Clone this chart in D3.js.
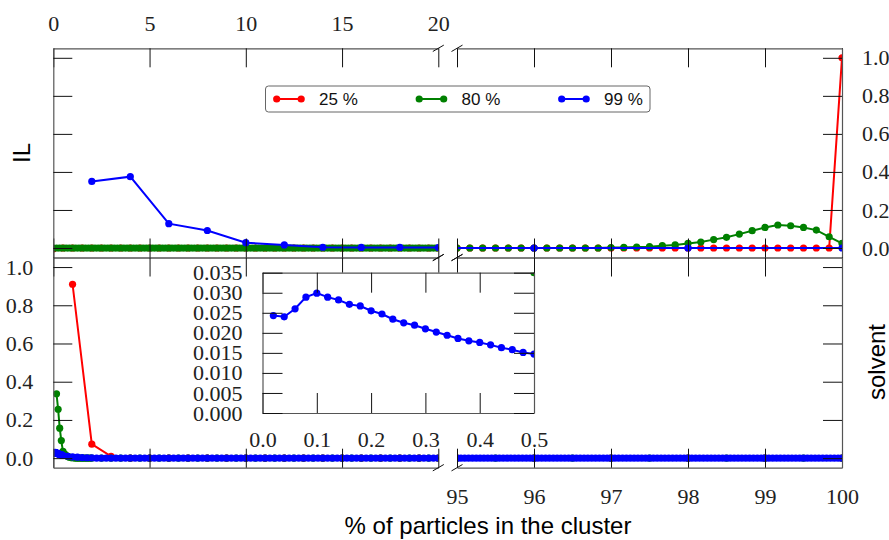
<!DOCTYPE html>
<html>
<head>
<meta charset="utf-8">
<script src="https://cdn.jsdelivr.net/npm/d3@7"></script>
<style>
  body { margin: 0; background: #fff; }
  svg { display: block; }
</style>
</head>
<body>
<svg id="chart" width="889" height="540"></svg>
<script>
// ---- data -------------------------------------------------------------
const seriesNames  = ['25 %', '80 %', '99 %'];
const seriesColors = ['#ff0000', '#008000', '#0000ff'];

const xTicksLeft   = [0, 5, 10, 15, 20];
const xTicksRight  = [95, 96, 97, 98, 99, 100];
const yTicks       = [0, 0.2, 0.4, 0.6, 0.8, 1.0];
const insetXTicks  = [0, 0.1, 0.2, 0.3, 0.4, 0.5];
const insetYTicks  = [0, 0.005, 0.01, 0.015, 0.02, 0.025, 0.03, 0.035];

// IL panel (top). Each piece: start x, x step, values
const il25Left = [
  -0.005, 0, 0, 0, 0, 0, 0, 0, 0, 0, 0, 0, 0, 0, 0, 0, 0, 0, 0, 0,
  0, 0, 0, 0, 0, 0, 0, 0, 0, 0, 0, 0, 0, 0, 0, 0, 0, 0, 0, 0,
  0
];                                                   // 0 .. 20, step 0.5
const il25Right = [
  0, 0, 0, 0, 0, 0, 0, 0, 0, 0, 0, 0, 0, 0, 0, 0,
  0, 0, 0, 0, 0, 0, 0, 0, 0, 0, 0, 0, 0, 0, 1.0
];                                                   // 95 .. 100, step 1/6
const il80Left = [
  0, 0, 0, 0, 0, 0, 0, 0, 0, 0, 0, 0, 0, 0, 0, 0, 0, 0, 0, 0,
  0, 0, 0, 0, 0, 0, 0, 0, 0, 0, 0, 0, 0, 0, 0, 0, 0, 0, 0, 0,
  0, 0, 0, 0, 0, 0, 0, 0, 0, 0, 0, 0, 0, 0, 0, 0, 0, 0, 0, 0,
  0, 0, 0, 0, 0, 0, 0, 0, 0, 0, 0, 0, 0, 0, 0, 0, 0, 0, 0, 0,
  0, 0, 0, 0, 0, 0, 0, 0, 0, 0, 0, 0, 0, 0, 0, 0, 0, 0, 0, 0,
  0, 0, 0, 0, 0, 0, 0, 0, 0, 0, 0, 0, 0, 0, 0, 0, 0, 0, 0, 0,
  0
];                                                   // 0 .. 20, step 1/6
const il80Right = [
  0, 0, 0, 0, 0, 0, 0, 0, 0, 0, 0, 0,
  0.002, 0.003, 0.005, 0.007, 0.012, 0.016, 0.024, 0.031, 0.044, 0.056,
  0.073, 0.091, 0.108, 0.121, 0.117, 0.108, 0.094, 0.059, 0.024
];                                                   // 95 .. 100, step 1/6
const il99Left  = [0.35, 0.375, 0.128, 0.092, 0.028, 0.016, 0.004, 0.003, 0.003, 0.002]; // 2 .. 20, step 2
const il99Right = [0, 0, 0, 0];                      // 94 .. 100, step 2

// solvent panel (bottom)
const sv25Left  = [0.91, 0.073, 0.01, 0, 0, 0, 0, 0, 0, 0, 0, 0, 0, 0, 0, 0, 0, 0, 0, 0]; // 1 .. 20
const sv25Right = [0, 0, 0, 0, 0, 0];                // 95 .. 100
const sv80Head  = [
  0.337, 0.256, 0.157, 0.092, 0.035, 0.022, 0.014, 0.009, 0.005, 0.003,
  0.002, 0.001, 0, 0, 0, 0, 0, 0, 0, 0, 0, 0, 0
];                                                   // 1/6 .. 2, step 1/12
const sv80Tail  = [
  0, 0, 0, 0, 0, 0, 0, 0, 0, 0, 0, 0, 0, 0, 0, 0, 0, 0,
  0, 0, 0, 0, 0, 0, 0, 0, 0, 0, 0, 0, 0, 0, 0, 0, 0, 0
];                                                   // 2.5 .. 20, step 0.5
const sv80Right = [0, 0, 0, 0, 0, 0, 0, 0, 0, 0, 0]; // 95 .. 100, step 0.5
const sv99Head  = [
  0.0243, 0.0240, 0.0260, 0.0289, 0.0299, 0.0289, 0.0282, 0.0271, 0.0267, 0.0255,
  0.0247, 0.0234, 0.0225, 0.0219, 0.0210, 0.0202, 0.0194, 0.0186, 0.0180, 0.0176,
  0.0170, 0.0163, 0.0158, 0.0151, 0.0147
];                                                   // 0.02 .. 0.50, step 0.02
const sv99Tail  = [
  0.010, 0.007, 0.005, 0.003, 0.002, 0.001, 0, 0, 0, 0, 0, 0, 0, 0, 0, 0, 0, 0, 0, 0,
  0, 0, 0, 0, 0, 0, 0, 0, 0, 0, 0, 0, 0, 0, 0, 0, 0, 0, 0, 0,
  0, 0, 0, 0, 0, 0, 0, 0, 0, 0, 0, 0, 0, 0, 0, 0, 0, 0, 0, 0,
  0, 0, 0, 0, 0, 0, 0, 0, 0, 0, 0, 0, 0, 0, 0, 0, 0, 0
];                                                   // 0.75 .. 20, step 0.25
const sv99Right = [
  0, 0, 0, 0, 0, 0, 0, 0, 0, 0, 0, 0, 0, 0, 0, 0, 0, 0, 0, 0,
  0, 0, 0, 0, 0, 0, 0, 0, 0, 0, 0, 0, 0, 0, 0, 0, 0, 0, 0, 0,
  0, 0, 0, 0, 0, 0, 0, 0, 0, 0, 0, 0, 0, 0, 0, 0, 0, 0, 0, 0,
  0, 0, 0, 0, 0, 0, 0, 0, 0, 0, 0, 0, 0, 0, 0, 0, 0, 0, 0, 0,
  0, 0, 0, 0, 0, 0, 0, 0, 0, 0, 0, 0, 0, 0, 0, 0, 0, 0, 0, 0,
  0
];                                                   // 95 .. 100, step 0.05

function piece(start, step, values) {
  return values.map((v, i) => [start + i * step, v]);
}

const ilPoints = [
  [...piece(0, 0.5, il25Left), ...piece(95, 1 / 6, il25Right)],
  [...piece(0, 1 / 6, il80Left), ...piece(95, 1 / 6, il80Right)],
  [...piece(2, 2, il99Left), ...piece(94, 2, il99Right)]
];
const svPoints = [
  [...piece(1, 1, sv25Left), ...piece(95, 1, sv25Right)],
  [...piece(1 / 6, 1 / 12, sv80Head), ...piece(2.5, 0.5, sv80Tail), ...piece(95, 0.5, sv80Right)],
  [...piece(0.02, 0.02, sv99Head), ...piece(0.75, 0.25, sv99Tail), ...piece(95, 0.05, sv99Right)]
];

// ---- layout -----------------------------------------------------------
const tickLen  = 19,
      markR    = 3.6,
      serif    = 'Liberation Serif, DejaVu Serif, Noto Serif, Times New Roman, serif',
      sans     = 'Liberation Sans, Arial, sans-serif',
      spineCol = '#555';

const xLeft  = d3.scaleLinear().domain([0, 20]).range([53.3, 438.3]),
      xRight = d3.scaleLinear().domain([95, 100]).range([457, 842]),
      yTop   = d3.scaleLinear().domain([-0.05, 1.05]).range([257.5, 48.3]),
      yBot   = d3.scaleLinear().domain([-0.05, 1.05]).range([467.7, 257.5]),
      xIn    = d3.scaleLinear().domain([0, 0.5]).range([262.5, 534]),
      yIn    = d3.scaleLinear().domain([0, 0.035]).range([413, 272.7]);

const svg  = d3.select('#chart');
const defs = svg.append('defs');
let clipCount = 0;

function clip(x, y) {
  const id = 'clip' + (clipCount++);
  const [x0, x1] = x.range(), [y1, y0] = y.range();
  defs.append('clipPath').attr('id', id).append('rect')
    .attr('x', x0).attr('y', y0).attr('width', x1 - x0).attr('height', y1 - y0);
  return `url(#${id})`;
}

function plot(points, x, y) {
  const g = svg.append('g').attr('clip-path', clip(x, y));
  const line = d3.line().x(d => x(d[0])).y(d => y(d[1]));
  points.forEach((pts, i) => {
    g.append('path').datum(pts)
      .attr('d', line)
      .attr('fill', 'none')
      .attr('stroke', seriesColors[i])
      .attr('stroke-width', 2);
    g.append('g').selectAll('circle').data(pts).join('circle')
      .attr('cx', d => x(d[0]))
      .attr('cy', d => y(d[1]))
      .attr('r', markR)
      .attr('fill', seriesColors[i]);
  });
}

function axis(gen, tx, ty, labels) {
  if (!labels) gen.tickFormat(() => '');
  const g = svg.append('g')
    .attr('transform', `translate(${tx},${ty})`)
    .call(gen);
  g.attr('font-size', null).attr('font-family', null);
  g.select('.domain').attr('stroke', spineCol).attr('stroke-width', 1.2);
  g.selectAll('.tick line').attr('stroke', '#111');
  g.selectAll('.tick text')
    .attr('fill', '#222')
    .style('font-family', serif)
    .style('font-size', '22px');
  return g;
}

function breakMark(cx, cy) {
  svg.append('line')
    .attr('x1', cx - 5.5).attr('y1', cy + 3.2)
    .attr('x2', cx + 5.5).attr('y2', cy - 3.2)
    .attr('stroke', '#111').attr('stroke-width', 1);
}

// one panel = a left (0..20) and a right (95..100) axes sharing y
function panel(points, y, opts) {
  plot(points, xLeft, y);
  plot(points, xRight, y);

  const [yb, yt] = y.range();
  const xt = (s, vals) => s.tickValues(vals).tickSize(-tickLen).tickSizeOuter(0)
    .tickFormat(d3.format('d'));

  axis(xt(d3.axisTop(xLeft), xTicksLeft).tickPadding(17), 0, yt, opts.topLabels);
  axis(xt(d3.axisTop(xRight), xTicksRight), 0, yt, false);
  axis(xt(d3.axisBottom(xLeft), xTicksLeft), 0, yb, false);
  axis(xt(d3.axisBottom(xRight), xTicksRight).tickPadding(21), 0, yb, opts.bottomLabels);

  const yt_ = s => s.tickValues(yTicks).tickSize(-tickLen).tickSizeOuter(0)
    .tickPadding(20).tickFormat(d3.format('.1f'));
  axis(yt_(d3.axisLeft(y)), xLeft.range()[0], 0, opts.leftLabels);
  axis(yt_(d3.axisRight(y)), xRight.range()[1], 0, opts.rightLabels);

  [yt, yb].forEach(cy => {
    breakMark(xLeft.range()[1], cy);
    breakMark(xRight.range()[0], cy);
  });
}

panel(ilPoints, yTop, {topLabels: true, bottomLabels: false, leftLabels: false, rightLabels: true});
panel(svPoints, yBot, {topLabels: false, bottomLabels: true, leftLabels: true, rightLabels: false});

// ---- inset ------------------------------------------------------------
svg.append('rect')
  .attr('x', xIn.range()[0]).attr('y', yIn.range()[1])
  .attr('width', xIn.range()[1] - xIn.range()[0])
  .attr('height', yIn.range()[0] - yIn.range()[1])
  .attr('fill', '#fff');
plot(svPoints, xIn, yIn);

const ixt = s => s.tickValues(insetXTicks).tickSize(-20).tickSizeOuter(0).tickFormat(d3.format('.1f'));
const iyt = s => s.tickValues(insetYTicks).tickSize(-20).tickSizeOuter(0).tickFormat(d3.format('.3f'));
axis(ixt(d3.axisTop(xIn)), 0, yIn.range()[1], false);
axis(ixt(d3.axisBottom(xIn)).tickPadding(18), 0, yIn.range()[0], true);
axis(iyt(d3.axisLeft(yIn)).tickPadding(20), xIn.range()[0], 0, true);
axis(iyt(d3.axisRight(yIn)), xIn.range()[1], 0, false);

// ---- legend -----------------------------------------------------------
const legend = svg.append('g').style('font-family', sans).style('font-size', '17px');
legend.append('rect')
  .attr('x', 265.5).attr('y', 86).attr('width', 384.5).attr('height', 26)
  .attr('rx', 3).attr('fill', '#fff').attr('stroke', '#666').attr('stroke-width', 1);

const entry = legend.selectAll('g.entry').data(seriesNames).join('g')
  .attr('class', 'entry')
  .attr('transform', (d, i) => `translate(${276.7 + i * 142.5},99)`);
entry.append('line')
  .attr('x1', 0).attr('x2', 24.5)
  .attr('stroke', (d, i) => seriesColors[i]).attr('stroke-width', 2);
entry.selectAll('circle').data((d, i) => [[0, i], [24.5, i]]).join('circle')
  .attr('cx', d => d[0]).attr('r', markR).attr('fill', d => seriesColors[d[1]]);
entry.append('text')
  .attr('x', 42.3).attr('y', 6)
  .attr('fill', '#111')
  .text(d => d);

// ---- axis titles ------------------------------------------------------
function title(text, transform) {
  svg.append('text')
    .attr('transform', transform)
    .attr('text-anchor', 'middle')
    .style('font-family', sans).style('font-size', '24px')
    .text(text);
}
title('IL', 'translate(30,153) rotate(-90)');
title('solvent', 'translate(885,362) rotate(-90)');
title('% of particles in the cluster', 'translate(488,534)');
</script>
</body>
</html>
